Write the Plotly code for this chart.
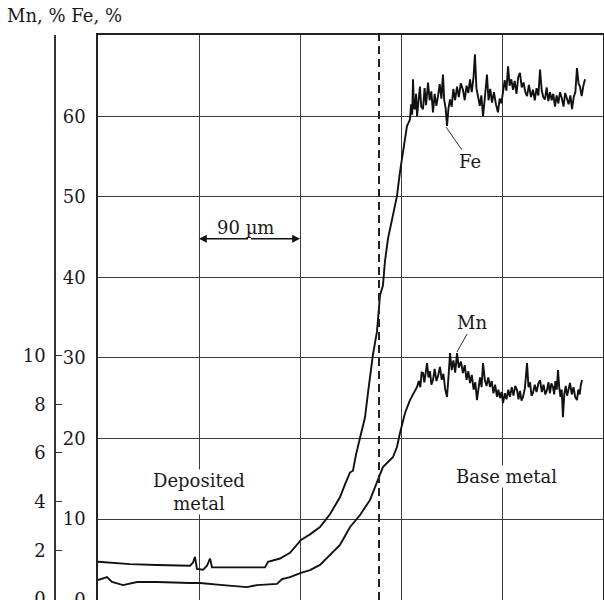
import plotly.graph_objects as go

# ---------------- data (distance in µm, concentrations in %) ----------------
fe_x = [0, 28.5, 52.6, 82.0, 84.7, 86.4, 88.2, 93.6, 97.1, 99.8, 101.6, 126.5, 148.8, 151.5,
        162.2, 171.1, 180.9, 188.9, 197.8, 206.7, 215.6, 220.1, 224.6, 227.2, 229.9, 233.5,
        237.9, 240.6, 243.3, 245.0, 248.6, 250.4, 251.3, 253.9, 255.7, 258.4, 262.9, 266.4,
        269.1, 271.8, 275.3,
        278.0, 279.0, 280.0, 280.7, 281.6, 282.5, 283.4, 284.3, 285.5, 286.9, 288.0, 289.6,
        291.0, 292.3, 294.1, 295.5, 297.0, 298.5, 300.0, 301.5, 303.0, 304.5, 306.0, 307.4,
        308.5, 309.8, 311.0, 312.3, 313.7, 315.2, 316.6, 318.2, 319.9, 321.5, 323.3, 325.2,
        326.8, 328.4, 330.0, 331.5, 333.0, 334.6, 335.9, 337.2, 338.6, 340.2, 341.6, 343.1,
        344.8, 346.6, 348.0, 349.5, 351.1, 352.8, 354.6, 356.4, 357.9, 359.4, 360.9, 362.4,
        363.9, 365.4, 366.8, 368.3, 369.8, 371.3, 372.9, 374.5, 376.0, 377.6, 379.2, 380.8,
        382.3, 384.0, 385.8, 387.6, 389.2, 390.8, 392.4, 393.9, 395.4, 396.8, 398.3, 399.8,
        401.3, 402.8, 404.3, 405.7, 407.2, 408.7, 410.2, 411.7, 413.2, 414.8, 416.3, 417.9,
        419.4, 420.9, 422.4, 423.9, 425.4, 426.8, 428.2, 429.5, 431.0, 432.5, 434.0]
fe_y = [4.7, 4.4, 4.3, 4.2, 4.6, 5.3, 3.8, 3.7, 4.2, 5.1, 4.0, 4.0, 4.0, 4.7,
        5.1, 5.8, 7.4, 8.1, 9.0, 10.6, 12.7, 14.3, 15.8, 16.0, 18.0, 20.1,
        22.6, 25.7, 28.8, 30.4, 33.3, 36.8, 37.8, 39.0, 42.0, 44.8, 47.7, 50.1,
        53.1, 55.6, 58.8,
        59.6, 61.5, 60.2, 64.6, 61.0, 60.9, 62.8, 60.0, 61.8, 63.7, 61.2, 60.9,
        63.5, 61.4, 64.2, 62.0, 63.1, 60.5, 62.8, 61.3, 62.5, 64.0, 62.2, 65.2,
        62.0, 61.0, 58.8, 61.0, 62.1, 61.2, 63.4, 62.0, 63.7, 62.4, 64.1, 63.3,
        62.0, 63.8, 62.9, 64.6, 63.0, 64.8, 67.7, 63.5, 62.5, 61.3, 62.6, 60.0,
        62.4, 65.2, 62.0, 63.4, 61.7, 63.0, 61.5, 60.5, 62.2, 61.6, 63.0, 64.5,
        63.2, 66.2, 63.8, 64.6, 63.3, 64.4, 62.8, 64.9, 65.4, 63.6, 64.2, 63.0,
        62.5, 63.9, 62.4, 63.3, 62.0, 63.5, 62.6, 65.8, 63.2, 62.4, 62.1, 63.6,
        61.9, 63.0, 62.0, 62.8, 61.2, 62.6, 61.6, 63.0, 62.3, 61.2, 62.9, 62.1,
        61.5, 62.6, 60.9, 62.4, 63.0, 66.0, 64.1, 63.7, 62.5, 63.8, 64.6]

mn_x = [0, 8.0, 12.5, 22.3, 34.8, 52.6, 82.0, 90.9, 111.4, 132.8, 141.7, 159.5, 164.0,
        171.1, 180.9, 188.9, 197.8, 206.7, 215.6, 224.6, 233.5, 242.4, 248.6, 253.9,
        262.9, 266.4, 269.1, 273.6, 278.0,
        284.3, 285.8, 287.2, 288.4, 289.6, 290.8, 292.0, 293.2, 294.5, 295.8, 297.1, 298.5,
        300.0, 301.6, 303.2, 304.7, 306.3, 307.8, 309.4, 311.0, 312.3, 313.7, 315.2, 316.7,
        318.3, 319.9, 321.5, 323.4, 325.2, 326.8, 328.4, 330.0, 331.5, 333.1, 334.7, 336.2,
        337.7, 339.2, 340.4, 341.8, 343.1, 344.7, 346.2, 347.8, 349.3, 350.8, 352.4, 353.9,
        355.5, 356.8, 358.2, 359.6, 360.9, 362.5, 364.0, 365.6, 367.1, 368.7, 370.2, 371.8,
        373.4, 374.7, 376.0, 377.4, 378.7, 380.4, 382.3, 383.6, 385.0, 386.3, 387.6, 389.2,
        390.8, 392.4, 393.9, 395.5, 397.0, 398.6, 400.1, 401.4, 402.7, 404.0, 405.4, 406.5,
        407.6, 408.8, 409.9, 411.0, 412.1, 413.2, 414.3, 415.5, 416.8, 418.0, 419.3, 420.6,
        422.2, 423.7, 425.2, 426.8, 428.0, 429.2, 430.3, 431.3]
mn_y = [0.78, 0.90, 0.70, 0.57, 0.70, 0.70, 0.66, 0.66, 0.57, 0.49, 0.57, 0.62, 0.82,
        0.90, 1.07, 1.19, 1.40, 1.81, 2.22, 2.96, 3.45, 4.07, 4.76, 5.42,
        5.83, 6.24, 6.82, 7.64, 8.17,
        8.71, 8.95, 8.70, 9.30, 9.28, 8.90, 9.40, 9.69, 9.10, 9.35, 8.80, 8.99,
        9.45, 8.95, 9.20, 9.53, 9.00, 9.25, 8.60, 8.30, 9.10, 10.10, 9.40, 9.80,
        9.30, 10.10, 9.50, 9.75, 9.28, 9.60, 9.00, 9.35, 8.87, 9.20, 8.60, 8.90,
        8.17, 8.80, 9.10, 8.70, 9.69, 9.00, 8.75, 9.10, 8.71, 8.95, 8.45, 8.80,
        8.30, 8.60, 8.25, 8.50, 8.05, 8.45, 8.20, 8.60, 8.30, 8.70, 8.35, 8.75,
        8.58, 8.20, 8.55, 8.15, 8.30, 8.65, 9.69, 8.70, 8.90, 8.35, 8.46, 8.80,
        8.50, 8.85, 8.99, 8.50, 8.80, 8.40, 8.58, 8.90, 8.45, 8.85, 8.71, 8.40,
        8.95, 8.60, 9.40, 8.70, 8.30, 8.60, 7.47, 8.40, 8.75, 8.35, 8.60, 8.87,
        8.40, 8.70, 8.30, 8.17, 8.60, 8.40, 8.80, 8.99]

x_ticks = [0, 90, 180, 270, 360, 450]
fe_ticks = [0, 10, 20, 30, 40, 50, 60]
mn_ticks = [0, 2, 4, 6, 8, 10]
interface_x = 250.4

# ---------------- layout helpers ----------------
W, H = 604, 600
ML, MR, MT, MB = 40, 1, 35, 0
PW, PH = W - ML - MR, H - MT - MB


def px(xp):
    return (xp - ML) / PW


def py(yp):
    return (H - MB - yp) / PH


FONT = "DejaVu Serif"
TXT = "#1a1a1a"
GRID = "#3c3c3c"

fig = go.Figure()
fig.add_trace(go.Scatter(x=fe_x, y=fe_y, mode="lines", name="Fe",
                         line=dict(color="#111", width=1.9), yaxis="y"))
fig.add_trace(go.Scatter(x=mn_x, y=mn_y, mode="lines", name="Mn",
                         line=dict(color="#111", width=1.9), yaxis="y2"))

fig.update_layout(
    width=W, height=H,
    margin=dict(l=ML, r=MR, t=MT, b=MB, autoexpand=False),
    paper_bgcolor="white", plot_bgcolor="white",
    showlegend=False,
    font=dict(family=FONT, size=18, color=TXT),
    xaxis=dict(domain=[px(98), 1], range=[0, 450], tickvals=x_ticks,
               showticklabels=False, ticks="", showgrid=True, gridcolor=GRID,
               gridwidth=1.3, zeroline=False, showline=True, linecolor="#222",
               linewidth=1.6, mirror=True, automargin=False),
    yaxis=dict(range=[-0.05, 70.1], tickvals=fe_ticks, ticks="",
               ticklabelstandoff=7, ticklabeloverflow="allow",
               showgrid=True, gridcolor=GRID, gridwidth=1.3,
               zeroline=False, showline=True, linecolor="#222", linewidth=1.6,
               mirror=True, automargin=False,
               tickfont=dict(family=FONT, size=18, color=TXT)),
    yaxis2=dict(overlaying="y", anchor="free", position=px(55), side="left",
                range=[-0.04, 23.16], tickvals=mn_ticks, ticks="inside", ticklen=6,
                tickwidth=1.3, tickcolor="#333", showgrid=False, zeroline=False,
                showline=True, linecolor="#333", linewidth=1.5, automargin=False,
                ticklabelstandoff=5, ticklabeloverflow="allow",
                tickfont=dict(family=FONT, size=18, color=TXT)),
)

# dashed interface line
fig.add_shape(type="line", xref="x", yref="y domain", x0=interface_x, x1=interface_x,
              y0=0, y1=1, line=dict(color="#222", width=2, dash="8px,5px"))

# 90 µm scale arrow
arrow_y = 44.8
fig.add_annotation(x=x_ticks[1], y=arrow_y, ax=135, ay=arrow_y, axref="x", ayref="y",
                   xref="x", yref="y", text="", showarrow=True, arrowhead=2,
                   arrowsize=1.2, arrowwidth=1.3, arrowcolor="#111", standoff=0)
fig.add_annotation(x=x_ticks[2], y=arrow_y, ax=135, ay=arrow_y, axref="x", ayref="y",
                   xref="x", yref="y", text="", showarrow=True, arrowhead=2,
                   arrowsize=1.2, arrowwidth=1.3, arrowcolor="#111", standoff=0)

# leader lines for labels
fig.add_shape(type="line", xref="paper", yref="paper", x0=px(446), y0=py(127),
              x1=px(462), y1=py(150), line=dict(color="#333", width=1))
fig.add_shape(type="line", xref="paper", yref="paper", x0=px(457), y0=py(352),
              x1=px(467), y1=py(334), line=dict(color="#333", width=1))


def label(text, xp, yp, bg=None, xanchor="center"):
    fig.add_annotation(text=text, x=px(xp), y=py(yp), xref="paper", yref="paper",
                       showarrow=False, xanchor=xanchor, yanchor="middle",
                       font=dict(family=FONT, size=18, color=TXT),
                       bgcolor=bg if bg else "rgba(0,0,0,0)", borderpad=0)


label("Mn, % Fe, %", 6, 16, xanchor="left")
label("90 µm", 245, 228)
label("Fe", 470, 161)
label("Mn", 472, 322)
label("Deposited<br>metal", 199, 492, bg="white")
label("Base metal", 506, 476, bg="white")

fig.write_html(
    "out.html",
    config={"displayModeBar": False},
    post_script="document.body.style.margin='0';document.body.style.overflow='hidden';",
)
